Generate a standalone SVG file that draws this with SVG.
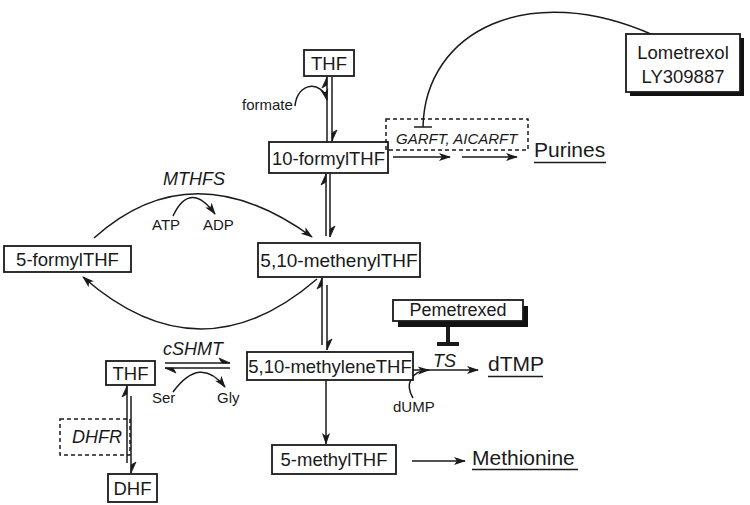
<svg xmlns="http://www.w3.org/2000/svg" width="750" height="505" viewBox="0 0 750 505">
<style>
.box{fill:#fff;stroke:#1a1a1a;stroke-width:1.8}
.dash{fill:none;stroke:#1a1a1a;stroke-width:1.5;stroke-dasharray:4,3}
.shadow{fill:#111}
.t{font-family:"Liberation Sans",Arial,sans-serif;fill:#1a1a1a}
.lab{font-size:18.5px}
.sm{font-size:15px}
.it{font-style:italic;font-size:18px}
.big{font-size:21px}
.ln{fill:none;stroke:#1a1a1a;stroke-width:1.5}
.ul{stroke:#1a1a1a;stroke-width:1.5}
.arr{marker-end:url(#ah)}
.hp{marker-end:url(#hp)}
.mid{text-anchor:middle}
</style>
<defs>
<marker id="ah" markerWidth="12" markerHeight="8" refX="11" refY="4" orient="auto" markerUnits="userSpaceOnUse" overflow="visible"><path d="M0,0 L12,4 L0,8 L3,4 z" fill="#1a1a1a"/></marker>
<marker id="hp" markerWidth="12" markerHeight="6" refX="11" refY="5" orient="auto" markerUnits="userSpaceOnUse" overflow="visible"><path d="M11,5 L0,0 L3,5 z" fill="#1a1a1a" stroke="#1a1a1a" stroke-width="0.8"/></marker>
</defs>
<rect width="750" height="505" fill="#fff"/>

<g id="connectors">
<!-- THF top <-> 10-formylTHF -->
<path class="ln hp" d="M327,142 L327,77"/>
<path class="ln hp" d="M332,77 L332,141"/>
<path class="ln arr" d="M295,106 C297,82 322,80 327,100"/>
<!-- 10-formylTHF <-> methenyl -->
<path class="ln hp" d="M326,236 L326,174"/>
<path class="ln hp" d="M330,174 L330,237"/>
<!-- methenyl <-> methylene -->
<path class="ln hp" d="M322,345 L322,278"/>
<path class="ln hp" d="M327,285 L327,350"/>
<!-- MTHFS arc -->
<path class="ln arr" d="M94,238 Q192,150 312,237"/>
<path class="ln arr" d="M173,216 Q190,180 215,214"/>
<!-- methenyl -> 5-formylTHF -->
<path class="ln arr" d="M317,279 Q200,380 83,277"/>
<!-- Lometrexol inhibition -->
<path class="ln" d="M653,35 C530,-20 425,30 423,127"/>
<path class="ul" d="M414,127 L432,127"/>
<!-- Purines -->
<path class="ln arr" d="M393,157 L450,157"/>
<path class="ln arr" d="M462,157 L517,157"/>
<!-- Pemetrexed inhibition -->
<path d="M448,326 L448,344" stroke="#1a1a1a" stroke-width="4"/>
<path d="M437,344 L459,344" stroke="#1a1a1a" stroke-width="4"/>
<!-- TS arrow -->
<path class="ln arr" d="M413,370 L478,370"/>
<path class="ln arr" d="M413,398 C405,385 410,371 429,370"/>
<!-- methylene -> 5-methylTHF -->
<path class="ln arr" d="M326,380 L326,444"/>
<!-- 5-methylTHF -> Methionine -->
<path class="ln arr" d="M412,461 L465,461"/>
<!-- cSHMT -->
<path class="ln hp" d="M165,363 L230,363"/>
<path class="ln hp" d="M230,368 L165,368"/>
<path class="ln arr" d="M173,392 Q200,355 225,387"/>
<!-- THF <-> DHF -->
<path class="ln hp" d="M127,463 L127,386"/>
<path class="ln hp" d="M131,396 L131,473"/>
</g>

<g id="thf_top">
<rect class="box" x="304" y="50" width="50" height="26"/>
<text class="t lab mid" x="329" y="70">THF</text>
</g>
<g id="formate"><text class="t sm" x="242" y="110">formate</text></g>
<g id="formylthf10">
<rect class="box" x="269" y="142" width="119" height="31"/>
<text class="t lab mid" x="328.5" y="165">10-formylTHF</text>
</g>
<g id="garft">
<rect class="dash" x="386" y="119" width="142" height="31"/>
<text class="t it" x="396" y="144" style="font-size:15px">GARFT, AICARFT</text>
</g>
<g id="purines">
<text class="t big" x="534" y="157">Purines</text>
<line class="ul" x1="534" y1="162.5" x2="606" y2="162.5"/>
</g>
<g id="lometrexol">
<rect class="shadow" x="630" y="38" width="114" height="58"/>
<rect class="box" x="626" y="34" width="114" height="58"/>
<text class="t lab mid" x="683" y="59">Lometrexol</text>
<text class="t lab mid" x="683" y="83">LY309887</text>
</g>
<g id="mthfs">
<text class="t it mid" x="194" y="185">MTHFS</text>
<text class="t sm" x="152" y="230">ATP</text>
<text class="t sm" x="203" y="230">ADP</text>
</g>
<g id="formylthf5">
<rect class="box" x="4" y="246" width="127" height="26"/>
<text class="t lab mid" x="67.5" y="266">5-formylTHF</text>
</g>
<g id="methenylthf">
<rect class="box" x="258" y="243" width="162" height="34"/>
<text class="t mid" style="font-size:19px" x="339" y="267">5,10-methenylTHF</text>
</g>
<g id="pemetrexed">
<rect class="shadow" x="398" y="306" width="130" height="21"/>
<rect class="box" x="393" y="300" width="130" height="21"/>
<text class="t mid" style="font-size:18px" x="458" y="316">Pemetrexed</text>
</g>
<g id="methylenethf">
<rect class="box" x="247" y="352" width="166" height="28"/>
<text class="t lab mid" x="330" y="373">5,10-methyleneTHF</text>
</g>
<g id="ts"><text class="t it" x="433" y="367">TS</text></g>
<g id="dtmp">
<text class="t big" x="488" y="371">dTMP</text>
<line class="ul" x1="488" y1="376.5" x2="543" y2="376.5"/>
</g>
<g id="dump"><text class="t sm" x="393" y="412">dUMP</text></g>
<g id="thf_low">
<rect class="box" x="106" y="361" width="49" height="24"/>
<text class="t lab mid" x="130.5" y="380">THF</text>
</g>
<g id="cshmt">
<text class="t it" x="163" y="355">cSHMT</text>
<text class="t sm" x="152" y="403">Ser</text>
<text class="t sm" x="217" y="403">Gly</text>
</g>
<g id="dhfr">
<rect class="dash" x="60" y="419" width="70" height="36"/>
<text class="t it" x="72" y="443">DHFR</text>
</g>
<g id="dhf">
<rect class="box" x="108" y="474" width="49" height="28"/>
<text class="t lab mid" x="132.5" y="495">DHF</text>
</g>
<g id="methylthf">
<rect class="box" x="272" y="445" width="124" height="29"/>
<text class="t lab mid" x="334" y="466">5-methylTHF</text>
</g>
<g id="methionine">
<text class="t big" x="472" y="465">Methionine</text>
<line class="ul" x1="472" y1="469.5" x2="578" y2="469.5"/>
</g>
</svg>
